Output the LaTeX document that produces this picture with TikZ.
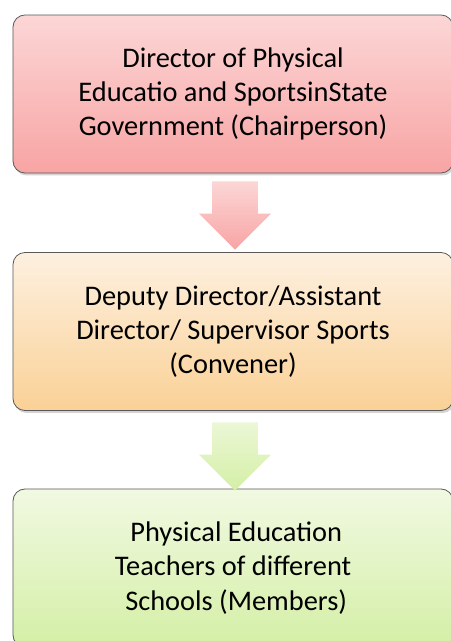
\documentclass[tikz,border=0pt]{standalone}
\usepackage{fontspec}
\setmainfont{Carlito}
\usetikzlibrary{positioning,shapes.arrows,shadows}

\definecolor{pinkTop}{HTML}{FCD6D6}
\definecolor{pinkBot}{HTML}{F8A4A4}
\definecolor{peachTop}{HTML}{FDF0E0}
\definecolor{peachBot}{HTML}{FAD196}
\definecolor{greenTop}{HTML}{F1F9E2}
\definecolor{greenBot}{HTML}{D4EFA6}

\tikzset{
  box/.style={draw=black!65, line width=0.8bp, rounded corners=12bp,
    minimum width=440bp, minimum height=158bp, align=center,
    font=\fontsize{28.5}{34.5}\selectfont,
    drop shadow={opacity=.35, shadow xshift=1.5bp, shadow yshift=-2.5bp}},
  down/.style={single arrow, shape border rotate=270, draw=none,
    minimum height=60bp, minimum width=72bp,
    single arrow head extend=13bp, inner sep=22.5bp}
}

\begin{document}
\begin{tikzpicture}[x=1bp,y=1bp]

\useasboundingbox (0,0) rectangle (451,641);

\node[box, top color=pinkTop, bottom color=pinkBot] (chair) at (233,547)
  {Director of Physical\\Educatio and SportsinState\\Government (Chairperson)};
\node[box, top color=peachTop, bottom color=peachBot] (conv) at (233,309.5)
  {Deputy Director/Assistant\\Director/ Supervisor Sports\\(Convener)};
\node[box, top color=greenTop, bottom color=greenBot] (memb) at (233,73)
  {\ Physical Education\\Teachers of different\\\ Schools (Members)};

\node[down, top color=pinkTop, bottom color=pinkBot] (a1) at (235,437) {};
\node[down, top color=greenTop!80!greenBot, bottom color=greenBot] (a2) at (235,196) {};

\end{tikzpicture}
\end{document}
